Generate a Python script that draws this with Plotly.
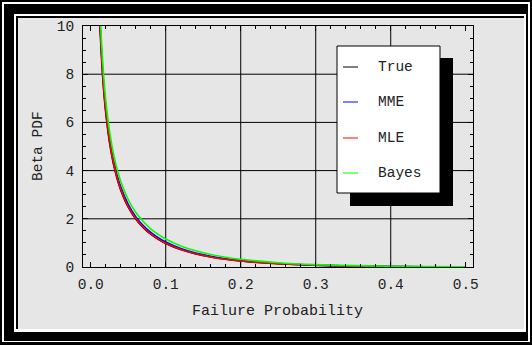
import plotly.graph_objects as go

# Failure probability grid and the four fitted beta densities
x_vals = [0.01, 0.0125, 0.015, 0.0175, 0.02, 0.025, 0.03, 0.035, 0.04, 0.05,
          0.06, 0.07, 0.08, 0.09, 0.10, 0.12, 0.14, 0.16, 0.18, 0.20,
          0.25, 0.30, 0.35, 0.40, 0.45, 0.50]
true_pdf = [11.92, 9.80, 8.33, 7.24, 6.40, 5.17, 4.31, 3.68, 3.19, 2.48,
            1.99, 1.635, 1.362, 1.149, 0.978, 0.723, 0.545, 0.416, 0.320, 0.248,
            0.132, 0.0705, 0.0372, 0.0191, 0.0095, 0.0045]
mme_pdf = [12.25, 10.09, 8.59, 7.48, 6.62, 5.36, 4.48, 3.83, 3.33, 2.60,
           2.09, 1.72, 1.44, 1.215, 1.035, 0.768, 0.580, 0.444, 0.343, 0.266,
           0.143, 0.077, 0.0410, 0.0212, 0.0107, 0.0051]
mle_pdf = [12.13, 9.967, 8.463, 7.349, 6.488, 5.236, 4.366, 3.722, 3.226, 2.507,
           2.012, 1.651, 1.375, 1.159, 0.986, 0.728, 0.548, 0.418, 0.321, 0.248,
           0.132, 0.0705, 0.0371, 0.0190, 0.0094, 0.0044]
bayes_pdf = [12.69, 10.50, 8.970, 7.831, 6.947, 5.656, 4.752, 4.080, 3.559, 2.801,
             2.273, 1.885, 1.586, 1.351, 1.160, 0.873, 0.670, 0.520, 0.407, 0.321,
             0.179, 0.100, 0.0556, 0.0301, 0.0158, 0.0080]

series_names = ["True", "MME", "MLE", "Bayes"]
series_values = [true_pdf, mme_pdf, mle_pdf, bayes_pdf]
series_colors = ["#000000", "#0000ff", "#ff0000", "#00ff00"]

x_tick_vals = [0.0, 0.1, 0.2, 0.3, 0.4, 0.5]
x_tick_text = ["0.0", "0.1", "0.2", "0.3", "0.4", "0.5"]
y_tick_vals = [0, 2, 4, 6, 8, 10]
y_tick_text = ["0", "2", "4", "6", "8", "10"]
x_grid = [0.1, 0.2, 0.3, 0.4]
y_grid = [2, 4, 6, 8]

W, H = 532, 345
ML, MR, MT, MB = 83, 59, 26, 78
PW, PH = W - ML - MR, H - MT - MB
FONT = "Liberation Mono, Courier New, monospace"
TEXT = "#222222"
PANEL = "#e6e6e6"


def px(xp):
    return (xp - ML) / PW


def py(yp):
    return (MT + PH - yp) / PH


def rect(x0, y0, x1, y1, fill, layer="below", line=None):
    return dict(type="rect", xref="paper", yref="paper",
                x0=px(x0), x1=px(x1), y0=py(y1), y1=py(y0),
                fillcolor=fill, line=line or dict(width=0), layer=layer)


fig = go.Figure()
for name, vals, col in zip(series_names, series_values, series_colors):
    fig.add_trace(go.Scatter(x=x_vals, y=vals, mode="lines", name=name,
                             line=dict(color=col, width=1.6, shape="spline"),
                             showlegend=False, hoverinfo="skip"))

shapes = []
# Outer decorative frame
shapes.append(rect(0, 0, W, H, "#000000"))
shapes.append(rect(2, 2, W - 2, H - 3, "#ffffff"))
shapes.append(rect(4, 4, W - 4, H - 4, "#000000"))
shapes.append(rect(14, 14, W - 6, H - 13, "#ffffff"))
shapes.append(rect(16, 16, W - 8, H - 16, "#000000"))
shapes.append(rect(18, 18, W - 8, H - 16, PANEL))

# Grid lines
for gx in x_grid:
    shapes.append(dict(type="line", xref="x", yref="paper", x0=gx, x1=gx, y0=0, y1=1,
                       line=dict(color="#000000", width=1), layer="below"))
for gy in y_grid:
    shapes.append(dict(type="line", xref="paper", yref="y", x0=0, x1=1, y0=gy, y1=gy,
                       line=dict(color="#000000", width=1), layer="below"))

# Legend box with drop shadow
LX0, LY0, LX1, LY1 = 337, 46, 440, 193
shapes.append(rect(LX0 + 13, LY0 + 12, LX1 + 13, LY1 + 13, "#000000", layer="above"))
shapes.append(rect(LX0, LY0, LX1, LY1, "#ffffff", layer="above",
                   line=dict(color="#000000", width=1)))
entry_y = [67, 102, 138, 173]
annotations = []
for name, col, ey in zip(series_names, series_colors, entry_y):
    shapes.append(dict(type="line", xref="paper", yref="paper",
                       x0=px(343), x1=px(358), y0=py(ey), y1=py(ey),
                       line=dict(color=col, width=1), layer="above"))
    annotations.append(dict(xref="paper", yref="paper", x=px(376), y=py(ey),
                            xanchor="left", yanchor="middle", showarrow=False,
                            text=name, font=dict(family=FONT, size=14.5, color=TEXT)))

annotations.append(dict(xref="paper", yref="paper", x=px(277), y=py(311),
                        xanchor="center", yanchor="middle", showarrow=False,
                        text="Failure Probability",
                        font=dict(family=FONT, size=15, color=TEXT)))
annotations.append(dict(xref="paper", yref="paper", x=px(38), y=py(146),
                        xanchor="center", yanchor="middle", showarrow=False,
                        textangle=-90, text="Beta PDF",
                        font=dict(family=FONT, size=14.5, color=TEXT)))

axis_common = dict(showline=True, linecolor="#000000", linewidth=1, mirror="ticks",
                   ticks="inside", ticklen=5, tickcolor="#000000", tickwidth=1,
                   showgrid=False, zeroline=False,
                   tickfont=dict(family=FONT, size=14.5, color=TEXT))

fig.update_layout(
    width=W, height=H,
    margin=dict(l=ML, r=MR, t=MT, b=MB, pad=0),
    paper_bgcolor="#ffffff",
    plot_bgcolor="rgba(0,0,0,0)",
    shapes=shapes,
    annotations=annotations,
    showlegend=False,
    xaxis=dict(range=[-0.0103, 0.5097], tickmode="array", tickvals=x_tick_vals,
               ticktext=x_tick_text, ticklabelstandoff=4,
               minor=dict(dtick=0.02, tick0=0, ticks="inside", ticklen=3,
                          tickcolor="#000000", showgrid=False),
               **axis_common),
    yaxis=dict(range=[0, 10], tickmode="array", tickvals=y_tick_vals,
               ticktext=y_tick_text, ticklabelstandoff=5,
               minor=dict(dtick=0.5, tick0=0, ticks="inside", ticklen=3,
                          tickcolor="#000000", showgrid=False),
               **axis_common),
)

fig.write_html("out.html")
